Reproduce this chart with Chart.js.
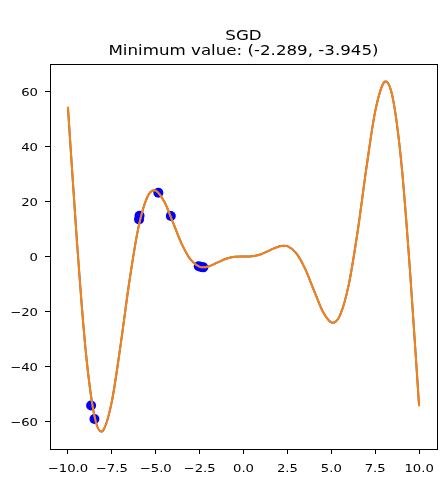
<!DOCTYPE html>
<html>
<head>
<meta charset="utf-8">
<script src="https://cdn.jsdelivr.net/npm/chart.js@4.4.1/dist/chart.umd.min.js"></script>
<style>
  body { margin: 0; background: #fff; }
  canvas { display: block; }
</style>
</head>
<body>
<canvas id="sgdChart" width="446" height="483"></canvas>
<script>
// curve f(x), values
const curveX = [-10, -9.5, -9, -8.5, -8.1, -8, -7.5, -7, -6.5, -6, -5.5, -5.09, -5, -4.5, -4, -3.5, -3,
    -2.5, -2.289, -2, -1.5, -1, -0.5, 0, 0.5, 1, 1.5, 2, 2.289, 2.5, 3, 3.5, 4, 4.5, 5, 5.09, 5.5,
    6, 6.5, 7, 7.5, 8, 8.1, 8.5, 9, 9.5, 10];
const curveY = [54.40, 6.78, -33.38, -57.69, -63.64, -63.32, -52.76, -32.19, -9.09, 10.06, 21.34, 24.08, 23.97, 19.80, 12.11, 4.30, -1.27,
    -3.74, -3.945, -3.64, -2.24, -0.84, -0.12, 0, 0.12, 0.84, 2.24, 3.64, 3.945, 3.74, 1.27, -4.30, -12.11, -19.80, -23.97, -24.08, -21.34,
    -10.06, 9.09, 32.19, 52.76, 63.32, 63.64, 57.69, 33.38, -6.78, -54.40];

// SGD steps
const stepX = [-8.68, -8.49, -5.92, -5.95, -4.85, -4.14, -2.55, -2.42, -2.289];
const stepY = [-54.2, -59.1, 14.8, 13.5, 23.2, 14.7, -3.5, -3.85, -3.945];

const xTicks = [-10, -7.5, -5, -2.5, 0, 2.5, 5, 7.5, 10];
const yTicks = [-60, -40, -20, 0, 20, 40, 60];

const titleLines = ['SGD', 'Minimum value: (-2.289, -3.945)'];

// the reference text is a bit wider than it is tall
const stretch = 1.2;

function toPoints(xs, ys) {
    return xs.map((x, i) => ({x: x, y: ys[i]}));
}

function minusSign(s) {
    return s.replace('-', '\u2212');
}

function wideText(ctx, text, x, y, align) {
    ctx.save();
    ctx.translate(x, y);
    ctx.scale(stretch, 1);
    ctx.textAlign = align;
    ctx.fillText(text, 0, 0);
    ctx.restore();
}

const frameAndText = {
    id: 'frameAndText',
    afterDraw(chart) {
        const ctx = chart.ctx;
        const a = chart.chartArea;
        ctx.save();
        ctx.strokeStyle = '#000';
        ctx.lineWidth = 1;
        ctx.strokeRect(Math.round(a.left) + 0.5, Math.round(a.top) + 0.5,
            Math.round(a.right - a.left), Math.round(a.bottom - a.top));
        ctx.fillStyle = '#000';
        ctx.textBaseline = 'alphabetic';

        // title
        ctx.font = '13.9px "DejaVu Sans"';
        const cx = (a.left + a.right) / 2;
        wideText(ctx, titleLines[0], cx, 40, 'center');
        wideText(ctx, titleLines[1], cx, 54.5, 'center');

        // tick labels
        ctx.font = '11px "DejaVu Sans"';
        const xs = chart.scales.x;
        xTicks.forEach(v => {
            wideText(ctx, minusSign(v.toFixed(1)), xs.getPixelForValue(v), 472, 'center');
        });
        const ys = chart.scales.y;
        yTicks.forEach(v => {
            wideText(ctx, minusSign(String(v)), 38, ys.getPixelForValue(v) + 4, 'right');
        });
        ctx.restore();
    }
};

let ctx = document.getElementById('sgdChart').getContext('2d');
let sgdChart = new Chart(ctx, {
    type: 'scatter',
    data: {
        datasets: [{
            type: 'line',
            data: toPoints(curveX, curveY),
            borderColor: '#ff7f0e',
            borderWidth: 2,
            pointRadius: 0,
            cubicInterpolationMode: 'monotone',
            fill: false,
            order: 0
        }, {
            type: 'line',
            data: toPoints(curveX, curveY),
            borderColor: '#1f77b4',
            borderWidth: 2,
            pointRadius: 0,
            cubicInterpolationMode: 'monotone',
            fill: false,
            order: 1
        }, {
            data: toPoints(stepX, stepY),
            backgroundColor: '#0000ff',
            borderColor: '#0000ff',
            borderWidth: 0,
            pointRadius: 5,
            order: 2
        }]
    },
    options: {
        responsive: false,
        animation: false,
        devicePixelRatio: 1,
        layout: { padding: { top: 64, right: 9, left: 0, bottom: 0 } },
        plugins: {
            legend: { display: false },
            tooltip: { enabled: false },
            title: { display: false }
        },
        scales: {
            x: {
                type: 'linear',
                min: -11.02,
                max: 11.02,
                afterBuildTicks: (scale) => { scale.ticks = xTicks.map(v => ({value: v})); },
                afterFit: (scale) => { scale.height = 34; },
                border: { display: false },
                grid: { drawOnChartArea: false, tickLength: 5, tickColor: '#000' },
                ticks: { display: false }
            },
            y: {
                type: 'linear',
                min: -70,
                max: 70,
                afterBuildTicks: (scale) => { scale.ticks = yTicks.map(v => ({value: v})); },
                afterFit: (scale) => { scale.width = 50; },
                border: { display: false },
                grid: { drawOnChartArea: false, tickLength: 5, tickColor: '#000' },
                ticks: { display: false }
            }
        }
    },
    plugins: [frameAndText]
});
</script>
</body>
</html>
